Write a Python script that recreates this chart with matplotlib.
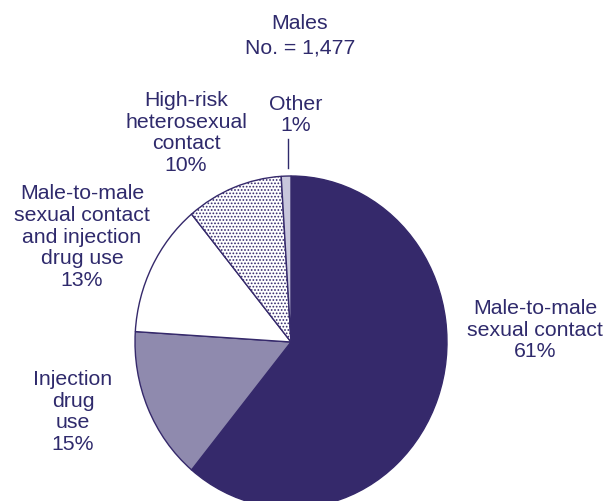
import numpy as np
import matplotlib
matplotlib.use('Agg')
import matplotlib.pyplot as plt

# data, clockwise from 12 o'clock
categories = ['Male-to-male\nsexual contact', 'Injection\ndrug\nuse',
              'Male-to-male\nsexual contact\nand injection\ndrug use',
              'High-risk\nheterosexual\ncontact', 'Other']
percents = [61, 15, 13, 10, 1]
title_lines = ['Males', 'No. = 1,477']

navy = '#35296b'
txt_col = '#2f2a6c'
fills = [navy, '#8f8aae', 'white', 'white', '#c8c6dc']
hatches = [None, None, None, '.....', None]

W, H = 615, 501
plt.rcParams['font.family'] = ['Liberation Sans', 'DejaVu Sans']
plt.rcParams['hatch.color'] = navy
plt.rcParams['hatch.linewidth'] = 0.8

fig = plt.figure(figsize=(W / 100, H / 100), dpi=100)
ax = fig.add_axes([0, 0, 1, 1])

wedges, _ = ax.pie(percents, colors=fills, startangle=90, counterclock=False,
                   wedgeprops=dict(edgecolor=navy, linewidth=1.0))
for w, h in zip(wedges, hatches):
    if h:
        w.set_hatch(h)

# pie centre and radii in pixels (reference is slightly elliptical)
cx, cy, rx, ry = 291, 342, 156, 166
ax.set_aspect('auto')
ax.set_xlim(-cx / rx, (W - cx) / rx)
ax.set_ylim(-(H - cy) / ry, cy / ry)
ax.axis('off')


def px(x, y):
    return x / W, 1 - y / H


fs = 15.3
lab_pos = [(535, 330), (73, 412), (82, 237), (186, 133), (296, 115)]
for cat, p, (x, y) in zip(categories, percents, lab_pos):
    fig.text(*px(x, y), f'{cat}\n{p}%', ha='center', va='center',
             fontsize=fs, color=txt_col, linespacing=1.17)

fig.text(*px(300, 36), '\n'.join(title_lines), ha='center', va='center',
         fontsize=fs, color=txt_col, linespacing=1.4)

# leader line for "Other"
fig.add_artist(plt.Line2D([288 / W, 288 / W], [1 - 139 / H, 1 - 168 / H],
                          color=txt_col, linewidth=1.0))

fig.savefig('out.png', dpi=100)
